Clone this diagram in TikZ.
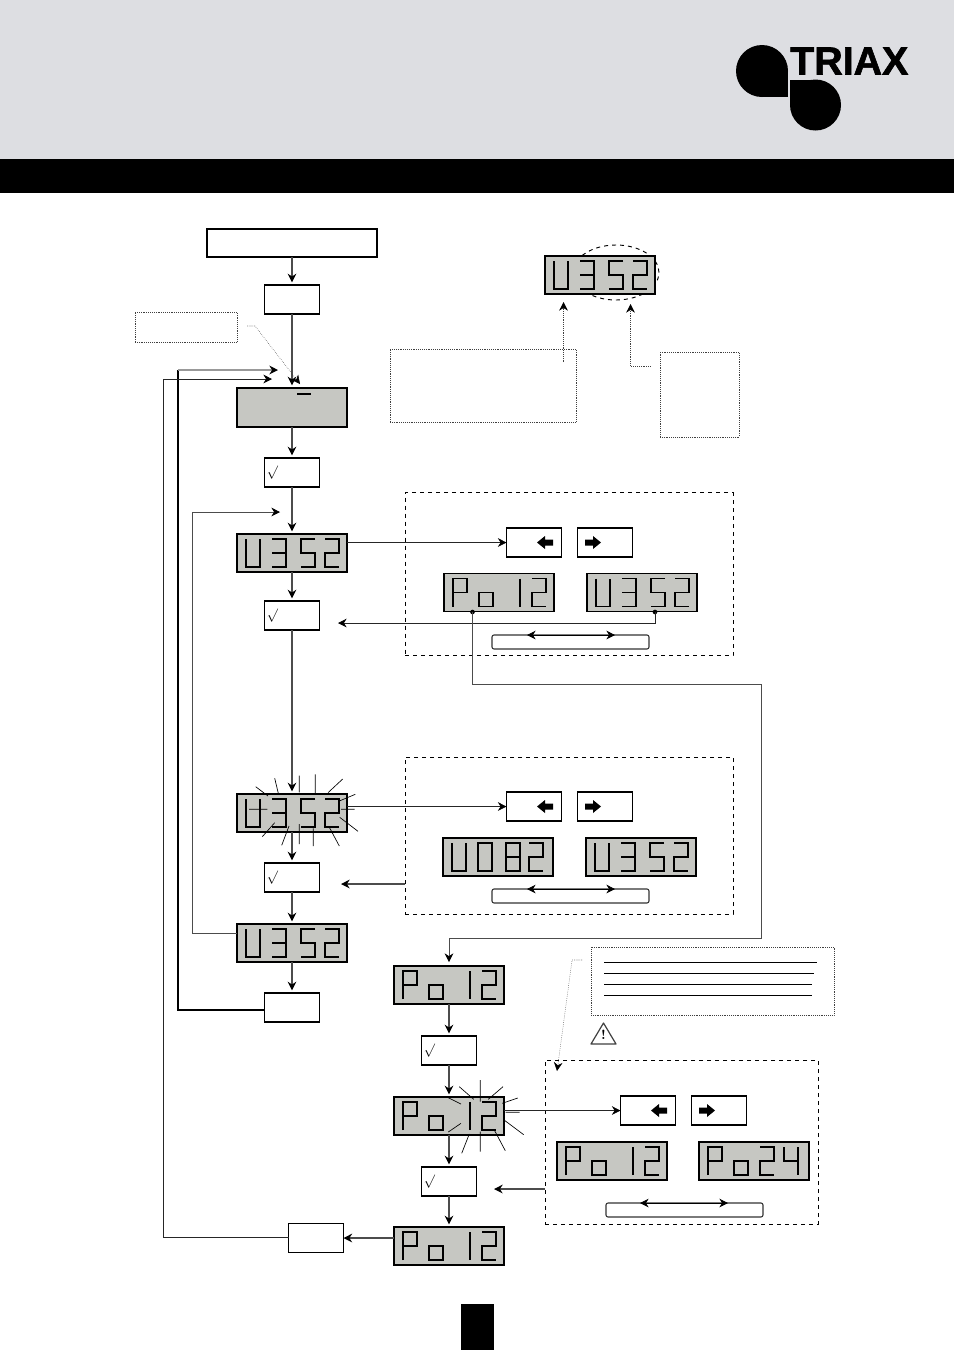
\documentclass[tikz,border=0pt]{standalone}
\usepackage{fontspec}
\usepackage{amsmath,amssymb}
\usepackage{tikz}
\usetikzlibrary{positioning,arrows.meta,shapes.geometric}
\newfontfamily\logofont[BoldFeatures={FakeBold=1.6}]{Liberation Sans}
\definecolor{headgray}{RGB}{221,222,226}
\definecolor{lcdgray}{RGB}{198,199,194}

\tikzset{
  plainbox/.style={draw, line width=1.1pt, fill=white, outer sep=0pt, inner sep=0pt},
  keybox/.style={plainbox, minimum width=41.25pt, minimum height=21.75pt},
  checkbox/.style={keybox, label={[anchor=west, inner sep=1.5pt, font=\normalsize]west:$\surd$}},
  lcdbox/.style={plainbox, fill=lcdgray, minimum width=82.5pt, minimum height=28.5pt},
  notebox/.style={draw=black!75, densely dotted, line width=0.4pt, outer sep=0pt, inner sep=0pt},
  panelbox/.style={draw, dashed, line width=0.7pt, outer sep=0pt, inner sep=0pt},
  barbox/.style={draw=black!80, line width=0.8pt, rounded corners=1.5pt, outer sep=0pt, inner sep=0pt, minimum width=117.75pt, minimum height=10.5pt},
  flow/.style={-{Stealth[length=6.5pt,width=6.5pt,color=black]}, draw=black!70, line width=0.9pt, shorten >=2pt},
  thinflow/.style={-{Stealth[length=6.5pt,width=6.5pt,color=black]}, draw=black!85, line width=0.5pt},
  noteflow/.style={-{Stealth[length=6.5pt,width=6.5pt,color=black]}, draw=black!75, densely dotted, line width=0.4pt},
  twoway/.style={{Stealth[length=6.5pt,width=6.5pt]}-{Stealth[length=6.5pt,width=6.5pt]}, line width=0.5pt},
  ray/.style={line width=0.5pt},
  lcdseg/.style={line width=0.95pt},
  lcdU/.pic={\draw[lcdseg] (0,0) -- (0,28) -- (14,28) -- (14,0);},
  lcd3/.pic={\draw[lcdseg] (0,0) -- (14,0) -- (14,28) -- (0,28) (0,14) -- (14,14);},
  lcd5/.pic={\draw[lcdseg] (14,0) -- (0,0) -- (0,14) -- (14,14) -- (14,28) -- (0,28);},
  lcd2/.pic={\draw[lcdseg] (0,0) -- (14,0) -- (14,14) -- (0,14) -- (0,28) -- (14,28);},
  lcdP/.pic={\draw[lcdseg] (0,28) -- (0,0) -- (14,0) -- (14,14) -- (0,14);},
  lcdo/.pic={\draw[lcdseg] (0,14) rectangle (14,28);},
  lcd1/.pic={\draw[lcdseg] (12,0) -- (12,28);},
  lcd0/.pic={\draw[lcdseg] (0,0) rectangle (14,28);},
  lcd8/.pic={\draw[lcdseg] (0,0) rectangle (14,28) (0,14) -- (14,14);},
  lcd4/.pic={\draw[lcdseg] (0,0) -- (0,14) -- (14,14) (14,0) -- (14,28);},
}
% display with four glyphs, last two numbers are the slots of glyph 3 and 4
\newcommand{\lcddisp}[8]{
  \node[lcdbox, #2] (#1) {};
  \begin{scope}[shift={(#1.north west)}]
    \pic at (9,5) {lcd#3};
    \pic at (35,5) {lcd#4};
    \pic at (#7,5) {lcd#5};
    \pic at (#8,5) {lcd#6};
  \end{scope}
}
\newcommand{\lcdarrowleft}[1]{\fill (#1) ++(3,0) -- ++(8,-6.5) -- ++(0,3.5) -- ++(8,0) -- ++(0,6) -- ++(-8,0) -- ++(0,3.5) -- cycle;}
\newcommand{\lcdarrowright}[1]{\fill (#1) ++(-4,0) -- ++(-8,-6.5) -- ++(0,3.5) -- ++(-8,0) -- ++(0,6) -- ++(8,0) -- ++(0,3.5) -- cycle;}

\begin{document}
\begin{tikzpicture}[x=0.75pt, y=-0.75pt]
  \useasboundingbox (0,0) rectangle (954,1350);
  % header
  \fill[headgray] (0,0) rectangle (954,159);
  \fill[black] (0,159) rectangle (954,193);
  \fill[black] (461,1304) rectangle (494,1350);
  \fill (762,71) circle[radius=26];
  \fill (762,71) rectangle (788,97);
  \fill (815.5,105) circle[radius=25.5];
  \fill (790,80) rectangle (815.5,105);
  \node[anchor=west, inner sep=0pt, font=\logofont\bfseries\fontsize{29.5pt}{30pt}\selectfont] (logo) at (790,61) {TRIAX};

  % left column
  \node[plainbox, minimum width=127.5pt, minimum height=21pt] (start) at (292,243) {};
  \node[keybox, below=21pt of start] (menuA) {};
  \node[plainbox, fill=lcdgray, minimum width=82.5pt, minimum height=29.25pt, below=55.5pt of menuA] (blank) {};
  \node[checkbox, below=23.25pt of blank] (checkA) {};
  \lcddisp{dispA}{below=35.25pt of checkA}{U}{3}{5}{2}{64}{88}
  \node[checkbox, below=21.75pt of dispA] (checkB) {};
  \lcddisp{dispB}{below=123pt of checkB}{U}{3}{5}{2}{64}{88}
  \node[checkbox, below=23.25pt of dispB] (checkC) {};
  \lcddisp{dispC}{below=24pt of checkC}{U}{3}{5}{2}{64}{88}
  \node[keybox, below=23.25pt of dispC] (exitA) {};
  \draw[line width=1pt] (297,394) -- (311,394);

  % right column
  \lcddisp{dispD}{at={(449,985)}}{P}{o}{1}{2}{64}{88}
  \node[checkbox, below=24pt of dispD] (checkD) {};
  \lcddisp{dispE}{below=24pt of checkD}{P}{o}{1}{2}{64}{88}
  \node[checkbox, below=24pt of dispE] (checkE) {};
  \lcddisp{dispF}{below=23.25pt of checkE}{P}{o}{1}{2}{64}{88}
  \node[keybox, at={(316,1238)}] (exitB) {};

  % notes at the top
  \node[notebox, minimum width=76.5pt, minimum height=22.5pt] (noteA) at (186,327) {};
  \node[notebox, minimum width=139.5pt, minimum height=54.75pt] (noteB) at (483,385.5) {};
  \node[notebox, minimum width=59.25pt, minimum height=63.75pt] (noteC) at (699.5,394.5) {};
  \node[draw, dashed, ellipse, line width=0.7pt, inner sep=0pt, minimum width=64.5pt, minimum height=41.25pt] (zone) at (616,272.5) {};
  \lcddisp{dispTop}{at={(600,275)}}{U}{3}{5}{2}{64}{88}

  % first panel
  \node[panelbox, minimum width=246pt, minimum height=122.25pt] (panelA) at (569,574) {};
  \node[keybox, at={(534,542.5)}] (leftA) {};
  \node[keybox, right=12pt of leftA] (rightA) {};
  \lcddisp{dispG}{at={(499,592.5)}}{P}{o}{1}{2}{64}{88}
  \lcddisp{dispH}{right=24.75pt of dispG}{U}{3}{5}{2}{64}{88}
  \node[barbox, at={(570.5,642)}] (barA) {};
  \coordinate (barAl) at (527,635);
  \coordinate (barAr) at (615,635);

  % second panel
  \node[panelbox, minimum width=246pt, minimum height=117.75pt] (panelB) at (569,835.5) {};
  \node[keybox, at={(534,806.5)}] (leftB) {};
  \node[keybox, right=12pt of leftB] (rightB) {};
  \lcddisp{dispJ}{at={(498,857)}}{U}{0}{8}{2}{63}{86}
  \lcddisp{dispK}{right=24.75pt of dispJ}{U}{3}{5}{2}{64}{88}
  \node[barbox, at={(570.5,896)}] (barB) {};
  \coordinate (barBl) at (527,889);
  \coordinate (barBr) at (615,889);

  % third panel and its note
  \node[panelbox, minimum width=204.75pt, minimum height=123pt] (panelC) at (681.5,1142) {};
  \node[keybox, at={(648,1110.5)}] (leftC) {};
  \node[keybox, right=12pt of leftC] (rightC) {};
  \lcddisp{dispL}{at={(612,1161)}}{P}{o}{1}{2}{64}{88}
  \lcddisp{dispM}{right=24pt of dispL}{P}{o}{2}{4}{61}{85}
  \node[barbox, at={(684.5,1210)}] (barC) {};
  \coordinate (barCl) at (640,1203);
  \coordinate (barCr) at (728,1203);
  \node[notebox, minimum width=182.25pt, minimum height=51pt] (noteD) at (712.5,981) {};
  \draw[line width=0.7pt] (604,962) -- (817,962) (604,973) -- (814,973) (604,984) -- (812,984) (604,995) -- (812,995);
  \draw[draw=black!75, fill=white, line width=0.9pt, line join=round] (603.5,1023) -- (616,1044) -- (591,1044) -- cycle;
  \node[inner sep=0pt, font=\normalsize\bfseries] (warn) at (603.5,1035) {!};

  % arrows in the keys
  \lcdarrowleft{leftA}
  \lcdarrowright{rightA}
  \lcdarrowleft{leftB}
  \lcdarrowright{rightB}
  \lcdarrowleft{leftC}
  \lcdarrowright{rightC}

  % flashing rays
  \begin{scope}[shift={(dispB.north west)}]
    \draw[ray] (18.7,-7.3) -- (31,2) (37.7,-15.7) -- (41.3,-0.7) (62.3,-18.3) -- (62.3,-1.7) (78.3,-19.7) -- (78.3,-0.7)
      (105.7,-15) -- (91,-1.3) (118.3,0.3) -- (103,6.7) (104,15.3) -- (117.7,15.3) (102.7,23.3) -- (121,37.3)
      (92,32.7) -- (102.3,52) (76.3,34.3) -- (76.3,52) (62.3,30) -- (62.3,50) (52,32) -- (44.7,51.3)
      (37.7,28.7) -- (25.3,42.7) (12,15.3) -- (30.3,15.3);
  \end{scope}
  \begin{scope}[shift={(dispE.north west)}]
    \draw[ray] (65.3,-10.3) -- (79.7,2.3) (86.3,-17) -- (86.3,4.7) (109,-10.3) -- (94.3,2.3) (123.7,1) -- (108.3,6.3)
      (111.7,15.3) -- (125.7,15.3) (111,23.7) -- (129.7,37.7) (100.3,33) -- (111.3,53.7) (86.3,34.7) -- (86.3,54.7)
      (75.3,37) -- (67.7,56.3) (67,26.3) -- (54.3,35) (54.3,0.7) -- (67,7);
  \end{scope}

  % connectors of the left column
  \draw[flow] (start) -- (menuA);
  \draw[flow] (menuA) -- (blank);
  \draw[flow] (blank) -- (checkA);
  \draw[flow] (checkA) -- (dispA);
  \draw[flow] (dispA) -- (checkB);
  \draw[flow] (checkB) -- (dispB);
  \draw[flow] (dispB) -- (checkC);
  \draw[flow] (checkC) -- (dispC);
  \draw[flow] (dispC) -- (exitA);

  % connectors of the right column
  \draw[flow] (dispD) -- (checkD);
  \draw[flow] (checkD) -- (dispE);
  \draw[flow] (dispE) -- (checkE);
  \draw[flow] (checkE) -- (dispF);
  \draw[flow, shorten >=0pt] (dispF.west |- exitB.east) -- (exitB.east);

  % return lines
  \coordinate (backAa) at (178,1010);
  \coordinate (backAb) at (178,370);
  \coordinate (backAc) at (278,370);
  \coordinate (backBa) at (163,1237);
  \coordinate (backBb) at (163,379);
  \coordinate (backBc) at (272,379);
  \coordinate (backCa) at (192,933);
  \coordinate (backCb) at (192,512);
  \coordinate (backCc) at (280,512);
  \draw[line width=1.1pt] (exitA.west |- backAa) -- (backAa) -- (backAb);
  \draw[flow, draw=black!40, shorten >=0pt] (backAb) -- (backAc);
  \draw[thinflow] (exitB.west |- backBa) -- (backBa) -- (backBb) -- (backBc);
  \draw[thinflow, draw=black!70] (dispC.west |- backCa) -- (backCa) -- (backCb) -- (backCc);

  % connectors to and from the panels
  \draw[thinflow] (dispA.east |- leftA.west) -- (leftA.west);
  \draw[thinflow] (dispB.east |- leftB.west) -- (leftB.west);
  \draw[thinflow] (dispE.east |- leftC.west) -- (leftC.west);
  \node[fill, circle, inner sep=0pt, minimum size=3.5pt] (dotG) at (472.5,612) {};
  \node[fill, circle, inner sep=0pt, minimum size=3.5pt] (dotH) at (655,612) {};
  \coordinate (backD) at (338,623);
  \coordinate (turnA) at (761,684);
  \coordinate (turnB) at (761,938);
  \draw[thinflow] (dotH.center) |- (backD);
  \draw[thinflow, draw=black!70, shorten >=3pt] (dotG.center) |- (turnA) -- (turnB) -| (dispD.north);
  \coordinate (backE) at (341,884);
  \coordinate (backF) at (494,1189);
  \draw[flow, shorten >=0pt] (panelB.west |- backE) -- (backE);
  \draw[flow, shorten >=0pt] (panelC.west |- backF) -- (backF);

  % twin arrows on the bars
  \draw[twoway] (barAl) -- (barAr);
  \draw[twoway] (barBl) -- (barBr);
  \draw[twoway] (barCl) -- (barCr);

  % dotted pointers
  \coordinate (ptrA) at (247,326);
  \coordinate (ptrAb) at (255,326);
  \coordinate (ptrAc) at (300,384);
  \coordinate (ptrB) at (563.5,362);
  \coordinate (ptrBb) at (563.5,302);
  \coordinate (ptrC) at (650.5,366);
  \coordinate (ptrCb) at (630.5,304);
  \coordinate (ptrD) at (582,960);
  \coordinate (ptrDb) at (572,960);
  \coordinate (ptrDc) at (557,1071);
  \draw[noteflow] (ptrA) -- (ptrAb) -- (ptrAc);
  \draw[noteflow] (ptrB) -- (ptrBb);
  \draw[noteflow] (ptrC) -| (ptrCb);
  \draw[noteflow] (ptrD) -- (ptrDb) -- (ptrDc);
\end{tikzpicture}
\end{document}
